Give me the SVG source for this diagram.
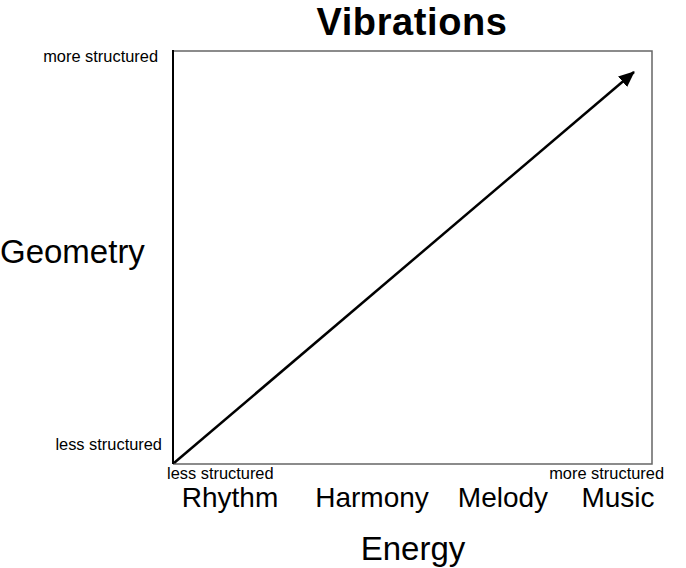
<svg xmlns="http://www.w3.org/2000/svg" width="686" height="568" viewBox="0 0 686 568">
<style>
text{font-family:"Liberation Sans",Arial,sans-serif;fill:#000}
.s{font-size:16.4px}
.m{font-size:28px}
.l{font-size:33px}
</style>
<defs>
<marker id="ah" markerWidth="16" markerHeight="14" refX="15" refY="7" orient="auto" markerUnits="userSpaceOnUse" viewBox="0 0 16 14">
<path d="M0,0 L16,7 L0,14 Z" fill="#000"/>
</marker>
</defs>
<rect width="686" height="568" fill="#fff"/>
<g id="frame">
<path d="M173,51 H652 V464 H173" fill="none" stroke="#666" stroke-width="1.5"/>
<line x1="173" y1="50" x2="173" y2="464" stroke="#000" stroke-width="2"/>
</g>
<g id="connectors">
<line x1="174" y1="463" x2="634" y2="72" stroke="#000" stroke-width="2.5" marker-end="url(#ah)"/>
</g>
<g id="title"><text x="412" y="35" font-size="38" font-weight="bold" letter-spacing="0.6" text-anchor="middle">Vibrations</text></g>
<g id="y-axis">
<text class="s" x="158" y="62" text-anchor="end">more structured</text>
<text class="s" x="162" y="450" text-anchor="end">less structured</text>
<text class="l" x="0" y="263">Geometry</text>
</g>
<g id="x-axis">
<text class="s" x="167" y="479">less structured</text>
<text class="s" x="664" y="479" text-anchor="end">more structured</text>
<text class="m" x="230" y="507" text-anchor="middle">Rhythm</text>
<text class="m" x="372" y="507" text-anchor="middle">Harmony</text>
<text class="m" x="503" y="507" text-anchor="middle">Melody</text>
<text class="m" x="618" y="507" text-anchor="middle">Music</text>
<text class="l" x="413" y="560" text-anchor="middle">Energy</text>
</g>
</svg>
